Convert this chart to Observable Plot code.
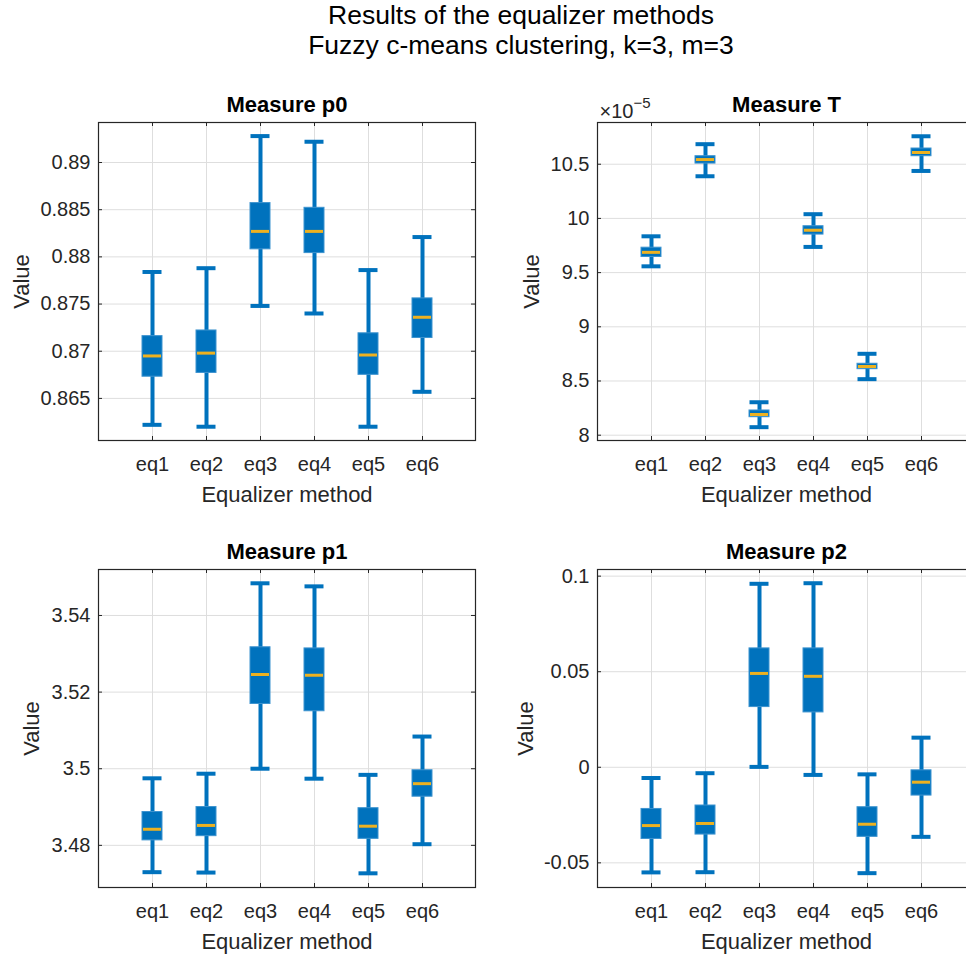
<!DOCTYPE html>
<html><head><meta charset="utf-8">
<script src="https://cdn.jsdelivr.net/npm/d3@7"></script>
<script src="https://cdn.jsdelivr.net/npm/@observablehq/plot@0.6"></script>
<style>
html,body{margin:0;padding:0;background:#fff;overflow:hidden;}
#fig{position:relative;width:966px;height:954px;overflow:hidden;background:#fff;font-family:"Liberation Sans",Arial,sans-serif;}
.t{position:absolute;left:121px;width:800px;text-align:center;font-size:26.5px;line-height:29.7px;color:#000;white-space:nowrap;}
</style></head><body>
<div id="fig">
<div class="t" style="top:1px">Results of the equalizer methods</div>
<div class="t" style="top:30.7px">Fuzzy c-means clustering, k=3, m=3</div>
</div>
<script>
const methods = ["eq1", "eq2", "eq3", "eq4", "eq5", "eq6"];

// Measure p0
const p0Lo  = [0.8622, 0.8620, 0.8748, 0.8740, 0.8620, 0.8657];
const p0Q1  = [0.8673, 0.8677, 0.8808, 0.8804, 0.8675, 0.8714];
const p0Med = [0.8695, 0.8698, 0.8827, 0.8827, 0.8696, 0.8736];
const p0Q3  = [0.8716, 0.8722, 0.8857, 0.8852, 0.8719, 0.8756];
const p0Hi  = [0.8784, 0.8788, 0.8928, 0.8922, 0.8786, 0.8821];
const p0Ticks = [0.865, 0.87, 0.875, 0.88, 0.885, 0.89];

// Measure T (values in units of 1e-5)
const TLo  = [9.558, 10.389, 8.074, 9.737, 8.517, 10.438];
const TQ1  = [9.644, 10.506, 8.166, 9.851, 8.609, 10.574];
const TMed = [9.687, 10.543, 8.191, 9.891, 8.634, 10.608];
const TQ3  = [9.730, 10.574, 8.228, 9.928, 8.659, 10.645];
const THi  = [9.835, 10.685, 8.304, 10.039, 8.751, 10.758];
const TTicks = [8, 8.5, 9, 9.5, 10, 10.5];

// Measure p1
const p1Lo  = [3.4730, 3.4729, 3.5000, 3.4974, 3.4727, 3.4803];
const p1Q1  = [3.4813, 3.4824, 3.5169, 3.5150, 3.4817, 3.4927];
const p1Med = [3.4842, 3.4852, 3.5246, 3.5244, 3.4850, 3.4961];
const p1Q3  = [3.4887, 3.4900, 3.5317, 3.5314, 3.4897, 3.4996];
const p1Hi  = [3.4975, 3.4987, 3.5484, 3.5476, 3.4984, 3.5084];
const p1Ticks = [3.48, 3.5, 3.52, 3.54];

// Measure p2
const p2Lo  = [-0.0550, -0.0549, 0.0002, -0.0040, -0.0554, -0.0364];
const p2Q1  = [-0.0375, -0.0352, 0.0315, 0.0287, -0.0364, -0.0148];
const p2Med = [-0.0305, -0.0294, 0.0491, 0.0476, -0.0298, -0.0078];
const p2Q3  = [-0.0218, -0.0200, 0.0622, 0.0622, -0.0209, -0.0016];
const p2Hi  = [-0.0056, -0.0031, 0.0960, 0.0963, -0.0037, 0.0155];
const p2Ticks = [-0.05, 0, 0.05, 0.1];

const blue = "#0072BD", yellow = "#EDB120", gridC = "#dedede", axisC = "#262626";

function panel(o) {
  const rows = methods.map((m, i) => ({m, lo: o.lo[i], q1: o.q1[i], med: o.med[i], q3: o.q3[i], hi: o.hi[i]}));
  const W = 490, H = 420, mt = 32, mb = 70;
  const pw = W - o.ml - o.mr, ph = H - mt - mb;
  const marks = [
    Plot.ruleX(methods, {x: d => d, stroke: gridC}),
    Plot.ruleY(o.ticks, {y: d => d, stroke: gridC}),
    Plot.ruleX(rows, {x: "m", y1: "lo", y2: "hi", stroke: blue, strokeWidth: 4}),
    Plot.tickY(rows, {x: "m", y: "lo", stroke: blue, strokeWidth: 4, insetLeft: 0.5, insetRight: 0.5}),
    Plot.tickY(rows, {x: "m", y: "hi", stroke: blue, strokeWidth: 4, insetLeft: 0.5, insetRight: 0.5}),
    Plot.barY(rows, {x: "m", y1: "q1", y2: "q3", fill: blue, stroke: "#3d93cf", strokeWidth: 1}),
    Plot.tickY(rows, {x: "m", y: "med", stroke: yellow, strokeWidth: 3, insetLeft: 1, insetRight: 1}),
    Plot.frame({stroke: axisC, strokeWidth: 1.2}),
    Plot.ruleX(methods, {x: d => d, stroke: axisC, insetTop: ph - 4}),
    Plot.ruleX(methods, {x: d => d, stroke: axisC, insetBottom: ph - 4}),
    Plot.ruleY(o.ticks, {y: d => d, stroke: axisC, insetRight: pw - 4}),
    Plot.ruleY(o.ticks, {y: d => d, stroke: axisC, insetLeft: pw - 4}),
    Plot.axisX({tickSize: 0, tickPadding: 16, fontSize: 20, color: axisC, label: null}),
    Plot.axisY(o.ticks, {tickSize: 0, tickPadding: 8, fontSize: 20, color: axisC, label: null, tickFormat: d => String(d)}),
    Plot.text([o.title], {text: d => d, frameAnchor: "top", dy: -18, lineAnchor: "middle", fontSize: 22, fontWeight: "bold", fill: "#000"}),
    Plot.text(["Value"], {text: d => d, frameAnchor: "left", rotate: -90, dx: -o.lo_off, lineAnchor: "bottom", textAnchor: "middle", fontSize: 22, fill: axisC}),
    Plot.text(["Equalizer method"], {text: d => d, frameAnchor: "bottom", dy: 61.5, lineAnchor: "bottom", textAnchor: "middle", fontSize: 22, fill: axisC})
  ];
  if (o.exp) {
    marks.push(Plot.text(["×10"], {text: d => d, frameAnchor: "top-left", dx: 2, dy: -5, lineAnchor: "bottom", textAnchor: "start", fontSize: 20, fill: axisC}));
    marks.push(Plot.text([o.exp], {text: d => d, frameAnchor: "top-left", dx: 36, dy: -15, lineAnchor: "bottom", textAnchor: "start", fontSize: 15, fill: axisC}));
  }
  const svg = Plot.plot({
    width: W, height: H,
    marginLeft: o.ml, marginRight: o.mr, marginTop: mt, marginBottom: mb,
    style: {fontFamily: "'Liberation Sans', Arial, sans-serif", background: "transparent", overflow: "visible"},
    x: {type: "band", domain: methods, paddingInner: 0.631, paddingOuter: 0.7935, align: 0.5},
    y: {domain: o.domain},
    marks
  });
  svg.style.position = "absolute";
  svg.style.left = o.left + "px";
  svg.style.top = o.top + "px";
  document.getElementById("fig").appendChild(svg);
}

panel({title: "Measure p0", lo: p0Lo, q1: p0Q1, med: p0Med, q3: p0Q3, hi: p0Hi, ticks: p0Ticks,
       domain: [0.86054, 0.89424], left: 0, top: 90, ml: 98, mr: 15, lo_off: 70});
panel({title: "Measure T", lo: TLo, q1: TQ1, med: TMed, q3: TQ3, hi: THi, ticks: TTicks,
       domain: [7.951, 10.885], left: 490, top: 90, ml: 107, mr: 5, lo_off: 59, exp: "−5"});
panel({title: "Measure p1", lo: p1Lo, q1: p1Q1, med: p1Med, q3: p1Q3, hi: p1Hi, ticks: p1Ticks,
       domain: [3.469, 3.552], left: 0, top: 537, ml: 98, mr: 15, lo_off: 59.5});
panel({title: "Measure p2", lo: p2Lo, q1: p2Q1, med: p2Med, q3: p2Q3, hi: p2Hi, ticks: p2Ticks,
       domain: [-0.0629, 0.10348], left: 490, top: 537, ml: 107, mr: 5, lo_off: 64.5});
</script>
</body></html>
